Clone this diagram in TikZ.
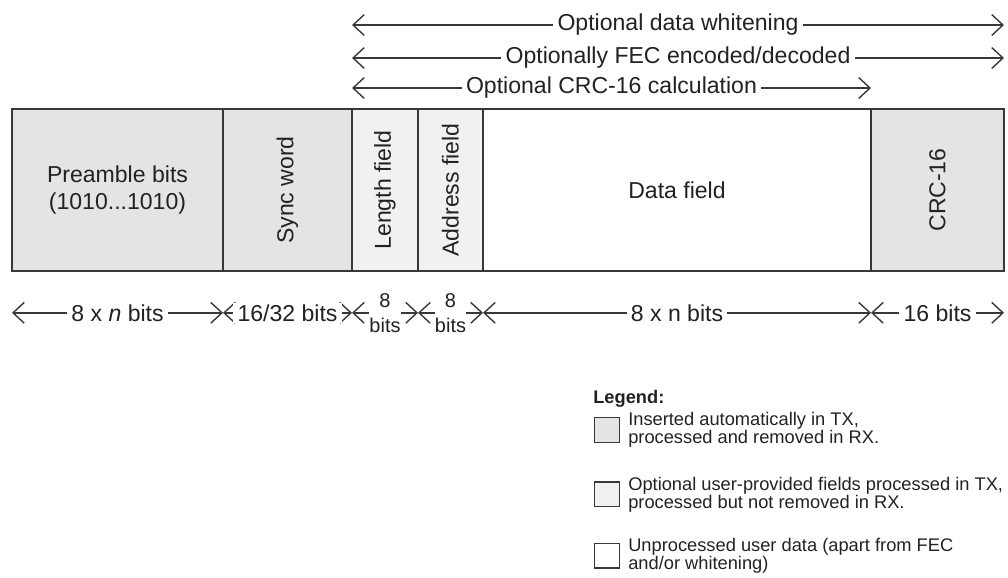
\documentclass[tikz,border=0pt]{standalone}
\usepackage{fontspec}
\setmainfont{Liberation Sans}
\usepackage{graphicx}
\usetikzlibrary{arrows.meta,positioning,calc}
\definecolor{ink}{HTML}{222222}
\definecolor{rule}{HTML}{383838}
\definecolor{autofill}{HTML}{E4E4E4}
\definecolor{optfill}{HTML}{F1F1F1}
\newcommand{\mainsize}{\fontsize{16.4}{19.5}\selectfont}
\newcommand{\bitsize}{\fontsize{14.2}{18}\selectfont}
\newcommand{\legendsize}{\fontsize{13}{11.2}\selectfont}
\tikzset{
 every node/.append style={font=\mainsize,text=ink,align=center},
 field/.style={draw=rule,line width=1.1pt,minimum height=4.05cm,inner sep=2pt,outer sep=0pt,anchor=north west},
 autofield/.style={field,fill=autofill},
 optfield/.style={field,fill=optfill},
 userfield/.style={field,fill=white},
 span/.style={{Straight Barb[length=2.8mm,width=5.2mm]}-{Straight Barb[length=2.8mm,width=5.2mm]},draw=rule,line width=1pt},
 spantext/.style={fill=white,inner xsep=3pt,inner ysep=1pt},
 key/.style={draw=rule,line width=.8pt,minimum size=6.2mm,inner sep=0pt},
 keytext/.style={anchor=west,align=left,font=\legendsize,inner sep=0pt},
}

\begin{document}
\begin{tikzpicture}
\useasboundingbox (0,0) rectangle (25.2,-14.425);

% packet fields, left to right
\node[autofield,minimum width=5.275cm] (preamble) at (0.3,-2.725) {Preamble bits\\(1010...1010)};
\node[autofield,minimum width=3.225cm] (sync) at (preamble.north east) {\rotatebox{90}{Sync word}};
\node[optfield,minimum width=1.65cm] (length) at (sync.north east) {\rotatebox{90}{Length field}};
\node[optfield,minimum width=1.625cm] (address) at (length.north east) {\rotatebox{90}{Address field}};
\node[userfield,minimum width=9.7cm] (data) at (address.north east) {Data field};
\node[autofield,minimum width=3.325cm] (crc) at (data.north east) {\rotatebox{90}{CRC-16}};

% processing ranges above the packet
\coordinate (whiten) at (0,-0.625);
\coordinate (fec) at (0,-1.45);
\coordinate (crccalc) at (0,-2.2);
\draw[span] (length.north west |- whiten) -- (crc.north east |- whiten)
  node[midway,spantext] {Optional data whitening};
\draw[span] (length.north west |- fec) -- (crc.north east |- fec)
  node[midway,spantext] {Optionally FEC encoded/decoded};
\draw[span] (length.north west |- crccalc) -- (data.north east |- crccalc)
  node[midway,spantext] {Optional CRC-16 calculation};

% field lengths
\coordinate (sizes) at (0,-7.82);
\draw[span] (preamble.south west |- sizes) -- (preamble.south east |- sizes)
  node[midway,spantext] {8 x \textit{n} bits};
\draw[span] (sync.south west |- sizes) -- (sync.south east |- sizes)
  node[midway,spantext] {16/32 bits};
\draw[span] (length.south west |- sizes) -- (length.south east |- sizes)
  node[midway,spantext,inner xsep=0pt,font=\bitsize] {8\\bits};
\draw[span] (address.south west |- sizes) -- (address.south east |- sizes)
  node[midway,spantext,inner xsep=0pt,font=\bitsize] {8\\bits};
\draw[span] (data.south west |- sizes) -- (data.south east |- sizes)
  node[midway,spantext] {8 x n bits};
\draw[span] (crc.south west |- sizes) -- (crc.south east |- sizes)
  node[midway,spantext] {16 bits};

% legend
\node[anchor=west,inner sep=0pt,font=\legendsize\bfseries] (legend) at (14.825,-9.975) {Legend:};
\node[key,fill=autofill] (keyauto) at (15.175,-10.75) {};
\node[keytext] (autotext) at (15.7,-10.75) {Inserted automatically in TX,\\processed and removed in RX.};
\node[key,fill=optfill] (keyopt) at (15.175,-12.36) {};
\node[keytext] (opttext) at (15.7,-12.37) {Optional user-provided fields processed in TX,\\processed but not removed in RX.};
\node[key,fill=white] (keyuser) at (15.175,-13.89) {};
\node[keytext] (usertext) at (15.7,-13.9) {Unprocessed user data (apart from FEC\\and/or whitening)};

\end{tikzpicture}
\end{document}
